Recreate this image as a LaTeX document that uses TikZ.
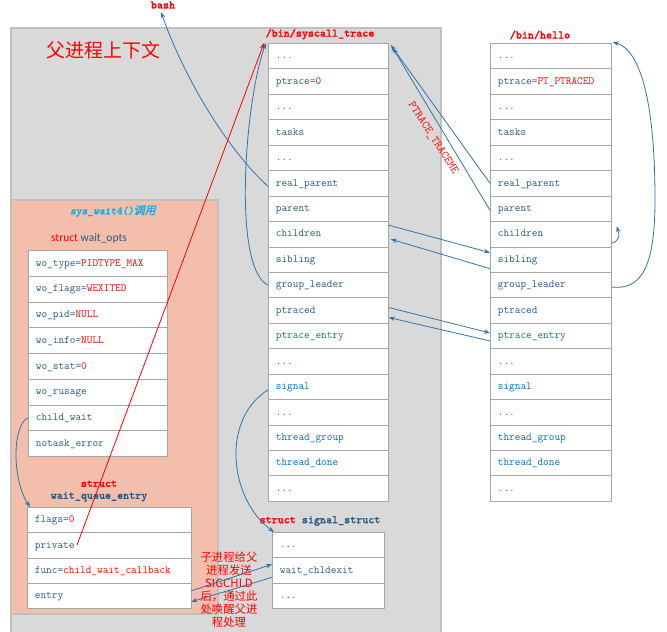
\documentclass[tikz,border=0pt]{standalone}
\usepackage{fontspec}
\newfontfamily\cjk{Noto Sans CJK SC}
\newfontfamily\cjkit{Noto Sans CJK SC}[FakeSlant=0.2,FakeBold=1.5]
\newfontfamily\calib{Carlito}
\newfontfamily\bmono{lmmonolt10-bold.otf}[FakeBold=1.2]
\newfontfamily\bimono{lmmonolt10-boldoblique.otf}[FakeBold=1.2]
\usetikzlibrary{arrows.meta}
\definecolor{grayfill}{RGB}{217,217,217}
\definecolor{graybd}{RGB}{192,192,192}
\definecolor{salmon}{RGB}{243,191,172}
\definecolor{rowbd}{RGB}{166,166,166}
\definecolor{fb}{RGB}{40,90,135}
\definecolor{bb}{RGB}{0,112,192}
\definecolor{tl}{RGB}{35,105,130}
\definecolor{lb}{RGB}{50,115,170}
\definecolor{cy}{RGB}{0,176,240}
\newcommand\dd{...}
\newcommand\mkstruct[6]{%
  \foreach \rowtxt [count=\i] in {#6}{%
    \node[row, text width=#4pt, minimum height=#5pt] (#1\i) at (#2, {#3+(\i-1)*#5}) {\rowtxt};
  }%
}
\begin{document}
\begin{tikzpicture}[x=1pt,y=-1pt,
  row/.style={draw=rowbd, fill=white, line width=0.8pt, anchor=north west,
    inner xsep=7.5pt, inner ysep=0pt, align=left, text height=8pt, text depth=2.5pt,
    font=\fontsize{11}{12}\ttfamily, text=fb},
  lbl/.style={font=\fontsize{11.5}{12}\bmono, text=red},
  link/.style={draw=lb, line width=0.8pt, -{Stealth[length=6pt,width=4.5pt]}},
  redlink/.style={draw=red, line width=0.8pt, -{Stealth[length=6pt,width=4.5pt]}}]
\useasboundingbox (0,0) rectangle (667,632);
% background areas
\fill[grayfill] (11,28) rectangle (441,632);
\draw[graybd, line width=1.5pt] (11,632) -- (11,28) -- (441,28) -- (441,632);
\filldraw[fill=salmon, draw=graybd, line width=1.2pt] (11,200) rectangle (218,614);
% titles
\node[text=red, font=\cjk\fontsize{19}{19}\selectfont] (ctx) at (103,50) {父进程上下文};
\node[text=cy, font=\fontsize{11}{12}\bimono] (sysw) at (113,211) {sys\_wait4()\cjkit 调用};
\node[font=\calib\fontsize{11.5}{12}\selectfont] (two) at (89,238) {\textcolor{red}{struct} \textcolor{fb}{wait\_opts}};
\node[lbl] (bash) at (163,5) {bash};
\node[lbl] (tsys) at (320,34) {/bin/syscall\_trace};
\node[lbl] (thello) at (540,35) {/bin/hello};
\node[align=center, font=\fontsize{11.5}{12}\bmono] (tqe) at (99,491) {\textcolor{red}{struct}\\\textcolor{fb}{wait\_queue\_entry}};
\node[font=\fontsize{11.5}{12}\bmono] (tss) at (320,521) {\textcolor{red}{struct} \textcolor{fb}{signal\_struct}};
\node[rotate=-57, text=red, font=\fontsize{11.5}{12}\ttfamily] (ptm) at (433,138) {PTRACE\_TRACEME};
% structures
\mkstruct{m}{268}{43}{105}{25.44}{\dd,ptrace=\textcolor{red}{0},\dd,tasks,\dd,real\_parent,parent,children,sibling,group\_leader,ptraced,\textcolor{tl}{ptrace\_entry},\textcolor{bb}{\dd},\textcolor{bb}{signal},\textcolor{bb}{\dd},\textcolor{bb}{thread\_group},\textcolor{bb}{thread\_done},\textcolor{bb}{\dd}}
\mkstruct{h}{490}{43}{106}{25.44}{\dd,ptrace=\textcolor{red}{PT\_PTRACED},\dd,tasks,\dd,real\_parent,parent,children,sibling,group\_leader,ptraced,\textcolor{tl}{ptrace\_entry},\textcolor{bb}{\dd},\textcolor{bb}{signal},\textcolor{bb}{\dd},\textcolor{bb}{thread\_group},\textcolor{bb}{thread\_done},\textcolor{bb}{\dd}}
\mkstruct{w}{28}{250}{124}{25.75}{wo\_type=\textcolor{red}{PIDTYPE\_MAX},wo\_flags=\textcolor{red}{WEXITED},wo\_pid=\textcolor{red}{NULL},wo\_info=\textcolor{red}{NULL},wo\_stat=\textcolor{red}{0},wo\_rusage,child\_wait,notask\_error}
\mkstruct{q}{27}{507}{148.5}{25.25}{flags=\textcolor{red}{0},private,func=\textcolor{red}{child\_wait\_callback},entry}
\mkstruct{s}{272}{532}{97}{25.3}{\dd,wait\_chldexit,\dd}
% note
\node[align=center, text=red, font=\cjk\fontsize{11.4}{13}\selectfont] (note) at (229,590) {子进程给父\\进程发送\\SIGCHLD\\后，通过此\\处唤醒父进\\程处理};
% connectors
\draw[link] ([yshift=-3pt]m6.west) .. controls (228,150) and (185,80) .. ([xshift=-2pt]bash.south);
\coordinate (privend) at (77,545);
\draw[redlink] (privend) -- ([xshift=-4pt]m1.north west);
\draw[link] (m10.west) .. controls (232,268) and (245,100) .. ([xshift=-2pt]m1.north west);
\draw[link] (h6.west) -- ([xshift=2pt,yshift=-2pt]m1.north east);
\draw[link] ([yshift=-1.5pt]h7.west) -- ([xshift=4pt,yshift=-5pt]m1.north east);
\draw[link] ([yshift=9pt]m8.east) -- ([yshift=7pt]h9.west);
\draw[link] ([yshift=-9pt]h9.west) -- ([xshift=2pt,yshift=-5pt]m8.east);
\draw[link] ([yshift=3pt]m11.east) -- ([yshift=3pt]h12.west);
\draw[link] ([yshift=-5pt]h12.west) -- ([yshift=-7pt]m11.east);
\draw[link] ([yshift=-9pt]h8.east) .. controls (621,240) and (619,234) .. ([xshift=5pt,yshift=8pt]h8.east);
\coordinate (gl) at (655,200);
\draw[link] ([yshift=-2pt]h10.east) .. controls (640,290) and (655,270) .. (gl) .. controls (655,100) and (640,50) .. ([xshift=1pt,yshift=1pt]h1.north east);
\draw[link] ([yshift=-3pt]m14.west) .. controls (220,420) and (230,500) .. ([xshift=2pt]s1.north west);
\draw[link] (w7.west) .. controls (12,425) and (12,480) .. ([xshift=3pt]q1.north west);
\draw[link] ([yshift=5pt]q4.east) -- ([yshift=6pt]s2.west);
\draw[link] ([yshift=-7pt]s2.west) -- ([yshift=-6pt]q4.east);
\end{tikzpicture}
\end{document}
